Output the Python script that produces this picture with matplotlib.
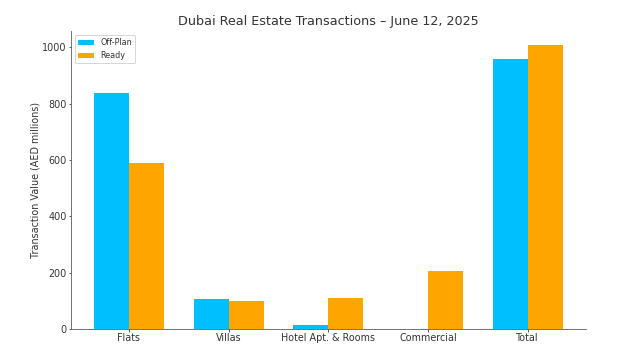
import numpy as np
import matplotlib
matplotlib.use('Agg')
import matplotlib.pyplot as plt

categories = ['Flats', 'Villas', 'Hotel Apt. & Rooms', 'Commercial', 'Total']
off_plan = [837, 106, 14, 0, 957]
ready = [591, 100, 111, 208, 1007]

plt.rcParams['font.size'] = 9.6
plt.rcParams['text.color'] = '#333333'
plt.rcParams['axes.labelcolor'] = '#333333'
plt.rcParams['xtick.color'] = '#333333'
plt.rcParams['ytick.color'] = '#333333'
plt.rcParams['xtick.major.size'] = 2.5
plt.rcParams['ytick.major.size'] = 2.5
plt.rcParams['xtick.major.pad'] = 1.0
plt.rcParams['ytick.major.pad'] = 1.5

x = np.arange(len(categories))
width = 0.35

fig, ax = plt.subplots(figsize=(619 / 72, 353 / 72), dpi=72)
ax.bar(x - width / 2, off_plan, width, label='Off-Plan', color='#00BFFF')
ax.bar(x + width / 2, ready, width, label='Ready', color='#FFA500')

ax.set_xticks(x)
ax.set_xticklabels(categories)
ax.set_ylabel('Transaction Value (AED millions)', labelpad=2)
ax.set_title('Dubai Real Estate Transactions \u2013 June 12, 2025', fontsize=12.7)
ax.legend(loc='upper left', fontsize=8)

for side in ['top', 'right']:
    ax.spines[side].set_visible(False)
for side in ['left', 'bottom']:
    ax.spines[side].set_color('#555555')

fig.subplots_adjust(left=0.1142, right=0.9467, bottom=0.0671, top=0.912)
plt.savefig('out.png', dpi=72)
